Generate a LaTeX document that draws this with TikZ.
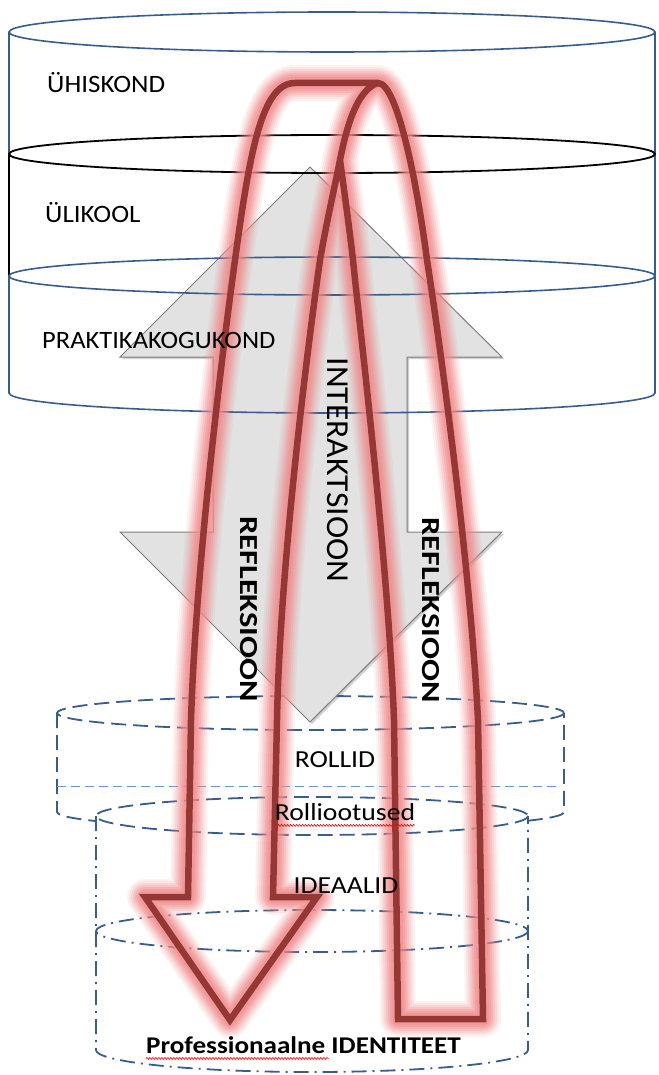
\documentclass[tikz,border=0pt]{standalone}
\usepackage{fontspec}
\setmainfont{Carlito}
\usetikzlibrary{shadows,decorations.pathmorphing}
\definecolor{cylblue}{RGB}{56,93,138}
\definecolor{lblue}{RGB}{110,150,205}
\definecolor{dred}{RGB}{149,55,53}
\definecolor{glowc}{RGB}{240,135,135}
\definecolor{arrfill}{RGB}{226,226,226}
\definecolor{arrdraw}{RGB}{125,125,125}
\newcommand\glowpath[1]{%
  \foreach \gw/\go in {36/0.10,32/0.13,28/0.17,24/0.22,20/0.28,16/0.33,12/0.35}{%
    \draw[glowc,line width=\gw,opacity=\go,line join=round] #1;}}
\newcommand\darkpath[1]{%
  \draw[dred,line width=6.5,line join=miter] #1;}
\tikzset{
  cylline/.style={cylblue,line width=1.6},
  dashcyl/.style={cylblue,line width=1.8,dash pattern=on 15pt off 7pt},
  dotcyl/.style={cylblue,line width=1.8,dash pattern=on 15pt off 6pt on 2pt off 6pt},
  toplab/.style={font=\fontsize{25}{26}\selectfont,inner sep=0,anchor=base west},
  botlab/.style={font=\fontsize{24.5}{25}\selectfont,inner sep=0,anchor=base},
  rotlab/.style={inner sep=0,rotate=-90},
  squig/.style={red,line width=0.6,decorate,decoration={snake,amplitude=1pt,segment length=3pt}}
}
\begin{document}
\begin{tikzpicture}[x=1pt,y=-1pt]
\useasboundingbox (0,0) rectangle (658,1075);

% ---------- lower cylinder (ROLLID) ----------
\draw[dashcyl] (310.5,713) ellipse (253.5 and 17);
\draw[dashcyl] (57,713) -- (57,812) arc[start angle=180,end angle=0,x radius=253.5,y radius=17] -- (564,713);
\draw[lblue,line width=1,dash pattern=on 9pt off 5pt] (57,786) -- (557,786);

% ---------- lowest cylinder (IDEAALID / IDENTITEET) ----------
\fill[white] (96,816) -- (96,1050) arc[start angle=180,end angle=0,x radius=216,y radius=22]
  -- (528,816) arc[start angle=0,end angle=-180,x radius=216,y radius=19] -- cycle;
\draw[dashcyl] (312,816) ellipse (216 and 19);
\draw[dotcyl] (96,816) -- (96,1050) arc[start angle=180,end angle=0,x radius=216,y radius=22] -- (528,816);
\draw[dotcyl] (312,931) ellipse (216 and 21);

% ---------- grey double arrow ----------
\draw[fill=arrfill,draw=arrdraw,line width=1,
      drop shadow={shadow xshift=2pt,shadow yshift=-2pt,opacity=0.3,fill=black!60}]
  (310,167) -- (502,357) -- (407,357) -- (407,532) -- (502,532) -- (310,722)
  -- (120,532) -- (213,532) -- (213,357) -- (120,357) -- cycle;

% ---------- top cylinder ----------
\draw[cylline] (332,32) ellipse (323 and 20);
\draw[cylline] (9,32) -- (9,154);
\draw[black,line width=1.6] (9,154) -- (9,276);
\draw[cylline] (9,276) -- (9,393) arc[start angle=180,end angle=0,x radius=323,y radius=20] -- (655,32);
\draw[black,line width=1.8] (332,154) ellipse (323 and 19);
\draw[cylline] (332,276) ellipse (323 and 19);

% ---------- red U-turn ribbon ----------
\def\ribbon{(378,83) .. controls (356,90) and (346,130) .. (340,160)
  .. controls (333,195) and (326,225) .. (320,260)
  .. controls (310,330) and (280,560) .. (277,720) -- (273,897)
  -- (317,897) -- (230,1020) -- (145,897) -- (188,897) -- (191,720)
  .. controls (196,560) and (224,340) .. (235,260)
  .. controls (250,150) and (262,83) .. (295,83) -- (378,83)
  .. controls (398,83) and (418,190) .. (427,260)
  .. controls (438,330) and (470,560) .. (478,720) -- (483,1019)
  -- (398,1019) -- (394,720)
  .. controls (388,560) and (360,330) .. (353,260)
  .. controls (349,225) and (344,190) .. (340,160)}
\glowpath{\ribbon}
\darkpath{\ribbon}

% ---------- texts ----------
\node[toplab] (hisk) at (47,93) {\scalebox{1.08}[1]{ÜHISKOND}};
\node[toplab] (ulik) at (45,223) {\scalebox{1.08}[1]{ÜLIKOOL}};
\node[toplab] (prak) at (42,348) {\scalebox{1.06}[1]{PRAKTIKAKOGUKOND}};
\node[rotlab,font=\fontsize{32}{33}\selectfont] (inter) at (338,470) {\scalebox{1.05}[1]{INTERAKTSIOON}};
\node[rotlab,font=\bfseries\fontsize{26}{27}\selectfont] (refl1) at (248.5,609) {\scalebox{1.25}[1]{REFLEKSIOON}};
\node[rotlab,font=\bfseries\fontsize{26}{27}\selectfont] (refl2) at (431,610) {\scalebox{1.25}[1]{REFLEKSIOON}};
\node[botlab] (roll) at (335,767) {\scalebox{1.13}[1]{ROLLID}};
\node[botlab] (rolo) at (345,820) {\scalebox{1.13}[1]{Rolliootused}};
\node[botlab] (idea) at (346,893) {\scalebox{1.13}[1]{IDEAALID}};
\node[botlab,font=\bfseries\fontsize{24}{25}\selectfont] (prof) at (303.5,1053) {\scalebox{1.13}[1]{Professionaalne IDENTITEET}};
\draw[squig] (rolo.south west) ++(0,5) -- ++(140,0);
\draw[squig] (prof.south west) ++(0,5) -- ++(183,0);
\end{tikzpicture}
\end{document}
